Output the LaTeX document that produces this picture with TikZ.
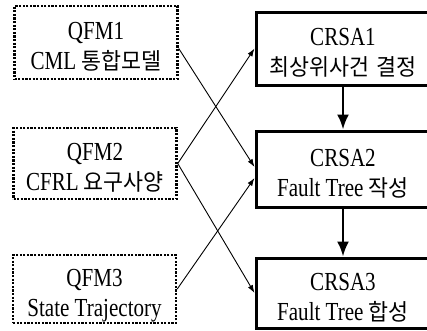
\documentclass[tikz,border=0pt]{standalone}
\usepackage{fontspec}
\setmainfont[FakeStretch=0.81]{Liberation Serif}
\newfontfamily\krfont[FakeStretch=0.95,Scale=0.88,WordSpace=1.6]{Noto Sans CJK KR}
\newcommand\hk[1]{{\krfont #1}}
% two-line box label: fixed height above the first baseline, second line without depth
\newcommand\twolines[2]{\rule{0pt}{24pt}#1\\\smash{#2}}
\usetikzlibrary{arrows.meta,calc}
\begin{document}
\begin{tikzpicture}[x=1pt,y=-1pt,
  boxtext/.style={align=center,inner sep=0pt,font=\fontsize{26}{30}\selectfont},
  qfm/.style={boxtext,draw,line width=2.5pt,dash pattern=on 2.2pt off 1.4pt,minimum width=163pt},
  crsa/.style={boxtext,draw,line width=3pt,minimum width=174pt},
  link/.style={line width=0.9pt,-{Latex[length=8pt,width=5.5pt]}},
  flow/.style={line width=2.4pt,-{Latex[length=15pt,width=12pt]}}]
\useasboundingbox (0,0) rectangle (427,330);
\clip (0,0) rectangle (427,330);
% model inputs (dotted)
\node[qfm,minimum height=73pt] (q1) at (96,42.5)  {\twolines{QFM1}{CML \hk{통합모델}}};
\node[qfm,minimum height=71pt] (q2) at (95,163.5) {\twolines{QFM2}{CFRL \hk{요구사양}}};
\node[qfm,minimum height=68pt] (q3) at (94.5,289) {\twolines{QFM3}{State Trajectory}};
% analysis steps (solid)
\node[crsa,minimum height=73pt] (c1) at (343,48.5) {\twolines{CRSA1}{\hk{최상위사건 결정}}};
\node[crsa,minimum height=76pt] (c2) at (343,169)  {\twolines{CRSA2}{Fault Tree \hk{작성}}};
\node[crsa,minimum height=70pt] (c3) at (343,293)  {\twolines{CRSA3}{Fault Tree \hk{합성}}};
% cross links
\draw[link] ($(q1.east)+(0,6)$) -- ($(c2.west)+(0,-2)$);
\draw[link] (q2.east) -- (c1.west);
\draw[link] (q2.east) -- (c3.west);
\draw[link] (q3.east) -- ($(c2.west)+(0,9)$);
% sequence
\draw[flow] (c1.south) -- (c2.north);
\draw[flow] (c2.south) -- (c3.north);
\end{tikzpicture}
\end{document}
